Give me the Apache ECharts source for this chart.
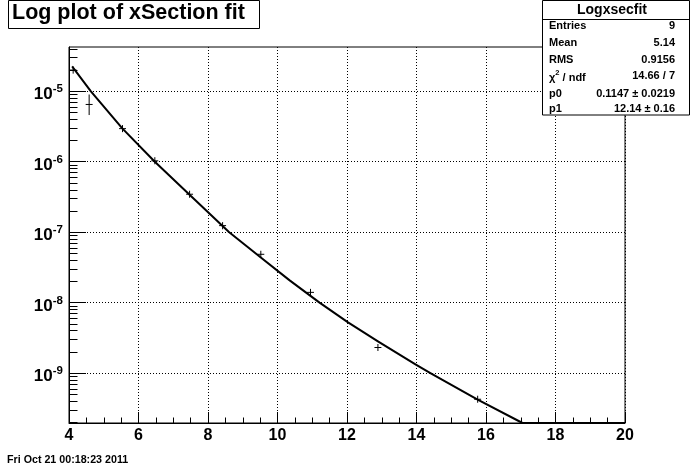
<!DOCTYPE html>
<html><head><meta charset="utf-8">
<script src="https://cdn.jsdelivr.net/npm/echarts@6/dist/echarts.min.js"></script>
<style>html,body{margin:0;padding:0;background:#fff}#c{width:696px;height:472px}</style>
</head><body><div id="c"></div>
<script>
// ---- data ----
const pointX  = [4.12, 4.58, 5.54, 6.47, 7.47, 8.42, 9.52, 10.95, 12.89, 15.76];
const pointY  = [2.0e-5, 6.5e-6, 2.95e-6, 1.03e-6, 3.46e-7, 1.24e-7, 4.86e-8, 1.40e-8, 2.31e-9, 4.26e-10];
const pointLo = [1.78e-5, 4.6e-6, 2.63e-6, 9.2e-7, 3.08e-7, 1.10e-7, 4.33e-8, 1.25e-8, 2.06e-9, 3.80e-10];
const pointHi = [2.24e-5, 9.0e-6, 3.31e-6, 1.16e-6, 3.88e-7, 1.39e-7, 5.45e-8, 1.57e-8, 2.59e-9, 4.78e-10];
const pointXErr = [0.1, 0.1, 0.1, 0.1, 0.1, 0.1, 0.1, 0.1, 0.1, 0.1];

const fitX = [4.09, 4.63, 5.54, 6.47, 7.47, 8.61, 9.52, 10.35, 11.21, 12.03, 12.89, 13.97, 14.4, 15.76, 17.05, 20];
const fitY = [2.26e-5, 1.0e-5, 2.95e-6, 1.0e-6, 3.39e-7, 1.0e-7, 4.37e-8, 2.07e-8, 1.0e-8, 5.25e-9, 2.82e-9, 1.33e-9, 1.0e-9, 4.22e-10, 1.96e-10, 1.96e-10];

const yMajorTicks = [1e-9, 1e-8, 1e-7, 1e-6, 1e-5];
const yTickExp = ['-9', '-8', '-7', '-6', '-5'];
const yMinorTicks = [2e-10,3e-10,4e-10,5e-10,6e-10,7e-10,8e-10,9e-10,
  2e-9,3e-9,4e-9,5e-9,6e-9,7e-9,8e-9,9e-9,
  2e-8,3e-8,4e-8,5e-8,6e-8,7e-8,8e-8,9e-8,
  2e-7,3e-7,4e-7,5e-7,6e-7,7e-7,8e-7,9e-7,
  2e-6,3e-6,4e-6,5e-6,6e-6,7e-6,8e-6,9e-6,
  2e-5,3e-5,4e-5];
const xMin = 4, xMax = 20, xStep = 2;
const yMin = 1.96e-10, yMax = 4.25e-5;

const titleText = 'Log plot of xSection fit';
const statsTitle = 'Logxsecfit';
const statsLabels = ['Entries', 'Mean', 'RMS', '{a|\u03c7}{s|2}{a| / ndf}', 'p0', 'p1'];
const statsValues = ['9', '5.14', '0.9156', '14.66 / 7', '0.1147 \u00b1 0.0219', '12.14 \u00b1 0.16'];
const dateText = 'Fri Oct 21 00:18:23 2011';

// ---- chart ----
const FF = '"Liberation Sans", Arial, Helvetica, sans-serif';
const chart = echarts.init(document.getElementById('c'), null, {renderer: 'canvas'});

const statsRowY = [25.7, 42.7, 60.3, 76.3, 93.7, 108.7];
const graphics = [
  {type: 'rect', z: 100, shape: {x: 8.5, y: 0.5, width: 251, height: 28}, style: {fill: '#fff', stroke: '#000', lineWidth: 1}},
  {type: 'text', z: 101, style: {text: titleText, x: 12, y: 13.5, verticalAlign: 'middle', align: 'left', fontFamily: FF, fontWeight: 'bold', fontSize: 21.5, fill: '#000'}},
  {type: 'rect', z: 100, shape: {x: 542.5, y: 0.5, width: 147, height: 114.5}, style: {fill: '#fff', stroke: '#000', lineWidth: 1}},
  {type: 'line', z: 101, shape: {x1: 542.5, y1: 19.5, x2: 689.5, y2: 19.5}, style: {stroke: '#000', lineWidth: 1}},
  {type: 'text', z: 101, style: {text: statsTitle, x: 612, y: 10.5, verticalAlign: 'middle', align: 'center', fontFamily: FF, fontWeight: 'bold', fontSize: 14, fill: '#000'}},
  {type: 'text', z: 101, style: {text: dateText, x: 7, y: 460, verticalAlign: 'middle', align: 'left', fontFamily: FF, fontWeight: 'bold', fontSize: 10.7, fill: '#000'}}
];
statsLabels.forEach((t, i) => {
  graphics.push({type: 'text', z: 101, style: {text: t, x: 549, y: statsRowY[i], verticalAlign: 'middle', align: 'left',
    fontFamily: FF, fontWeight: 'bold', fontSize: 11, fill: '#000',
    rich: {a: {fontFamily: FF, fontWeight: 'bold', fontSize: 11, lineHeight: 14, verticalAlign: 'bottom'},
           s: {fontFamily: FF, fontWeight: 'bold', fontSize: 7.5, lineHeight: 8, verticalAlign: 'top'}}}});
  graphics.push({type: 'text', z: 101, style: {text: statsValues[i], x: 675, y: statsRowY[i], verticalAlign: 'middle', align: 'right',
    fontFamily: FF, fontWeight: 'bold', fontSize: 11, fill: '#000'}});
});

const errData = pointX.map((x, i) => [x, pointY[i], pointLo[i], pointHi[i], pointXErr[i]]);

const option = {
  animation: false,
  backgroundColor: '#fff',
  grid: {left: 69, top: 47, width: 556, height: 376, show: true, borderColor: '#000', borderWidth: 1, backgroundColor: 'transparent', containLabel: false},
  xAxis: {
    type: 'value', min: xMin, max: xMax, interval: xStep,
    axisLine: {show: true, onZero: false, lineStyle: {color: '#000', width: 1}},
    axisTick: {show: true, inside: true, length: 11, lineStyle: {color: '#000'}},
    minorTick: {show: true, splitNumber: 4, length: 5.5, lineStyle: {color: '#000'}},
    splitLine: {show: true, lineStyle: {color: '#000', type: [1, 2], width: 1}},
    minorSplitLine: {show: false},
    axisLabel: {show: true, margin: 5, color: '#000', fontFamily: FF, fontWeight: 'bold', fontSize: 16, showMinLabel: true, showMaxLabel: true}
  },
  yAxis: [{
    type: 'log', min: yMin, max: yMax, logBase: 10,
    axisLine: {show: true, onZero: false, lineStyle: {color: '#000', width: 1}},
    axisTick: {show: true, inside: true, length: 17, customValues: yMajorTicks, lineStyle: {color: '#000'}},
    splitLine: {show: true, lineStyle: {color: '#000', type: [1, 2], width: 1}},
    minorTick: {show: false}, minorSplitLine: {show: false},
    axisLabel: {show: true, margin: 6, customValues: yMajorTicks, padding: [4, 0, 0, 0],
      formatter: function (v) {
        const e = Math.round(Math.log10(v));
        const idx = yMajorTicks.findIndex(t => Math.round(Math.log10(t)) === e);
        return '{b|10}{s|' + (idx >= 0 ? yTickExp[idx] : '') + '}';
      },
      rich: {
        b: {fontFamily: FF, fontWeight: 'bold', fontSize: 17, lineHeight: 20, color: '#000', verticalAlign: 'bottom'},
        s: {fontFamily: FF, fontWeight: 'bold', fontSize: 11.5, lineHeight: 11, color: '#000', verticalAlign: 'top'}
      }
    }
  }, {
    type: 'log', min: yMin, max: yMax, logBase: 10, position: 'left', offset: 0,
    axisLine: {show: false},
    axisTick: {show: true, inside: true, length: 8.5, customValues: yMinorTicks, lineStyle: {color: '#000'}},
    splitLine: {show: false}, axisLabel: {show: false}, minorTick: {show: false}
  }],
  series: [{
    type: 'line', name: 'fit', data: fitX.map((x, i) => [x, fitY[i]]),
    showSymbol: false, symbol: 'none', clip: false, z: 5,
    lineStyle: {color: '#000', width: 2, join: 'round'}
  }, {
    type: 'custom', name: 'points', data: errData, z: 6, clip: false,
    renderItem: function (params, api) {
      const x = api.value(0), y = api.value(1), lo = api.value(2), hi = api.value(3), dx = api.value(4);
      const pL = api.coord([x - dx, y]), pR = api.coord([x + dx, y]);
      const pT = api.coord([x, hi]), pB = api.coord([x, lo]);
      return {type: 'group', children: [
        {type: 'line', shape: {x1: pL[0], y1: pL[1], x2: pR[0], y2: pR[1]}, style: {stroke: '#000', lineWidth: 1}},
        {type: 'line', shape: {x1: pT[0], y1: pT[1], x2: pB[0], y2: pB[1]}, style: {stroke: '#000', lineWidth: 1}}
      ]};
    }
  }],
  graphic: graphics
};
chart.setOption(option);
</script>
</body></html>
